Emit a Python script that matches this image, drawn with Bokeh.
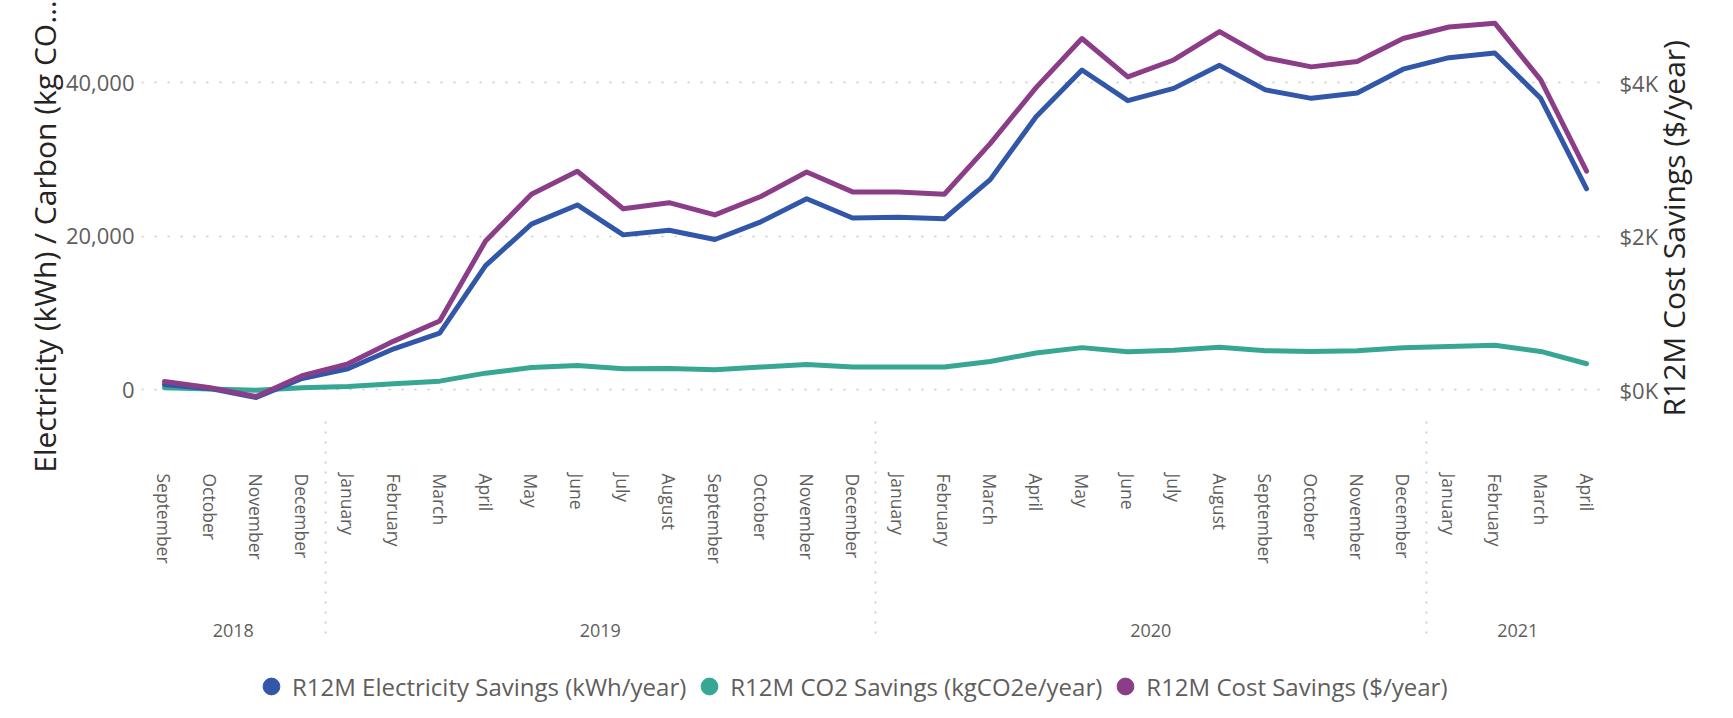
import math
from bokeh.plotting import figure
from bokeh.layouts import column
from bokeh.models import (FactorRange, Range1d, LinearAxis, FixedTicker, NumeralTickFormatter,
                          CustomJSTickFormatter, Legend, LegendItem, ColumnDataSource)
from bokeh.embed import file_html
from bokeh.resources import INLINE

# ---------------- data ----------------
years = ["2018"] * 4 + ["2019"] * 12 + ["2020"] * 12 + ["2021"] * 4
months = (["September", "October", "November", "December"]
          + ["January", "February", "March", "April", "May", "June", "July",
             "August", "September", "October", "November", "December"] * 2
          + ["January", "February", "March", "April"])

electricity_kwh = [700, 150, -1000, 1480, 2740, 5350, 7400, 16200, 21600, 24100, 20200, 20800,
                   19600, 21900, 24900, 22400, 22500, 22300, 27400, 35600, 41700, 37700, 39300,
                   42300, 39100, 38000, 38700, 41800, 43300, 43900, 38000, 26200]
co2_kg = [260, 100, -50, 260, 430, 780, 1130, 2170, 2900, 3180, 2740, 2790,
          2600, 2960, 3300, 2960, 2960, 2960, 3700, 4800, 5500, 4950, 5150,
          5560, 5100, 5000, 5100, 5480, 5650, 5800, 5000, 3400]
cost_usd = [108, 26, -87, 183, 339, 635, 896, 1940, 2550, 2850, 2360, 2440,
            2280, 2520, 2840, 2580, 2580, 2550, 3210, 3940, 4580, 4080, 4300,
            4670, 4330, 4210, 4280, 4580, 4730, 4780, 4040, 2850]

left_ticks = [0, 20000, 40000]
right_ticks = [0, 2000, 4000]
series_names = ["R12M Electricity Savings (kWh/year)",
                "R12M CO2 Savings (kgCO2e/year)",
                "R12M Cost Savings ($/year)"]
left_title = "Electricity (kWh) / Carbon (kg CO…"
right_title = "R12M Cost Savings ($/year)"

# ---------------- style ----------------
FONT = "Open Sans"
GRAY = "#605E5C"
DARK = "#252423"
GRID = "#C8C6C4"
BLUE = "#3257A8"
TEAL = "#37A794"
PURPLE = "#8B3D88"

W = 1717
MAIN_H = 656
LEG_H = 46
FRAME_H = 416
Y_TOP = 50756
Y_BOT = -3481

factors = list(zip(years, months))
src = ColumnDataSource(dict(x=factors, elec=electricity_kwh, co2=co2_kg, cost=cost_usd))
xr = FactorRange(*factors, factor_padding=0, group_padding=0, subgroup_padding=0, range_padding=0)

p = figure(x_range=xr, y_range=Range1d(Y_BOT, Y_TOP), width=W, height=MAIN_H,
           output_backend="svg", toolbar_location=None,
           min_border_left=134, min_border_right=104, min_border_top=0,
           min_border_bottom=MAIN_H - FRAME_H)
p.extra_y_ranges = {"cost": Range1d(Y_BOT / 10, Y_TOP / 10)}
p.outline_line_color = None

lw = 5
p.line("x", "co2", source=src, line_color=TEAL, line_width=lw, line_join="round", line_cap="round")
p.line("x", "elec", source=src, line_color=BLUE, line_width=lw, line_join="round", line_cap="round")
p.line("x", "cost", source=src, line_color=PURPLE, line_width=lw, line_join="round",
       line_cap="round", y_range_name="cost")

# grid
p.xgrid.visible = False
p.ygrid.ticker = FixedTicker(ticks=left_ticks)
p.ygrid.grid_line_color = GRID
p.ygrid.grid_line_dash = "2 11"
p.ygrid.grid_line_width = 1.5


def plain(ax):
    ax.axis_line_color = None
    ax.major_tick_line_color = None
    ax.minor_tick_line_color = None
    ax.major_tick_out = 0
    ax.major_tick_in = 0
    ax.minor_tick_out = 0
    ax.minor_tick_in = 0


def title_style(ax, text, standoff, align):
    ax.axis_label = text
    ax.axis_label_text_font = FONT
    ax.axis_label_text_font_size = "30px"
    ax.axis_label_text_font_style = "normal"
    ax.axis_label_text_color = DARK
    ax.axis_label_standoff = standoff
    try:
        ax.axis_label_orientation = math.pi / 2
        ax.axis_label_align = align
    except Exception:
        pass


# x axis
xa = p.xaxis[0]
plain(xa)
xa.major_label_orientation = "vertical"
xa.major_label_text_font = FONT
xa.major_label_text_font_size = "17.5px"
xa.major_label_text_color = GRAY
xa.group_text_font = FONT
xa.group_text_font_size = "18px"
xa.group_text_font_style = "normal"
xa.group_text_color = GRAY
xa.separator_line_color = GRID
xa.separator_line_dash = "2 8"
xa.separator_line_width = 1.5
xa.major_label_standoff = 57

# left axis
ya = p.yaxis[0]
plain(ya)
ya.ticker = FixedTicker(ticks=left_ticks)
ya.formatter = NumeralTickFormatter(format="0,0")
ya.major_label_text_font = FONT
ya.major_label_text_font_size = "22px"
ya.major_label_text_color = GRAY
ya.major_label_standoff = 7
title_style(ya, left_title, 18, "end")

# right axis
ra = LinearAxis(y_range_name="cost", ticker=FixedTicker(ticks=right_ticks),
                formatter=CustomJSTickFormatter(code="return '$' + (tick/1000).toFixed(0) + 'K';"))
plain(ra)
ra.major_label_text_font = FONT
ra.major_label_text_font_size = "22px"
ra.major_label_text_color = GRAY
ra.major_label_standoff = 10
title_style(ra, right_title, 12, "start")
p.add_layout(ra, "right")

# legend in its own strip below the chart
lf = figure(x_range=xr, y_range=Range1d(0, 1), width=W, height=LEG_H,
            output_backend="svg", toolbar_location=None,
            x_axis_location=None, y_axis_location=None,
            min_border_left=0, min_border_right=0, min_border_top=0, min_border_bottom=0)
lf.outline_line_color = None
lf.xgrid.visible = False
lf.ygrid.visible = False
leg_renderers = []
for col, c in zip(("elec", "co2", "cost"), (BLUE, TEAL, PURPLE)):
    leg_renderers.append(lf.scatter("x", col, source=src, marker="circle", size=0,
                                    fill_color=c, line_color=c))

legend = Legend(items=[LegendItem(label=n, renderers=[r]) for n, r in zip(series_names, leg_renderers)],
                orientation="horizontal", location=(109, -5),
                glyph_width=42, glyph_height=42, label_standoff=-6, spacing=2,
                padding=0, margin=0, border_line_color=None, background_fill_alpha=0,
                label_text_font=FONT, label_text_font_size="24px", label_text_color=GRAY)
lf.add_layout(legend, "center")

layout = column(p, lf, spacing=0)
open("out.html", "w").write(file_html(layout, INLINE))
